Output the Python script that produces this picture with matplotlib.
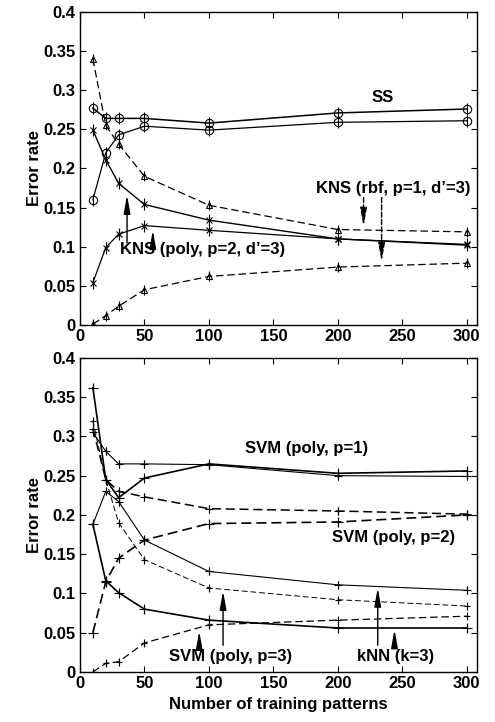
#!/usr/bin/env python3
"""Error rate vs. number of training patterns (KNS / SS and SVM / kNN)."""
import matplotlib
matplotlib.use("Agg")
import matplotlib.pyplot as plt

plt.rcParams["font.family"] = ["Liberation Sans", "DejaVu Sans"]
plt.rcParams["font.weight"] = "bold"

n_train = [10, 20, 30, 50, 100, 200, 300]

# top panel
ss_a = [0.277, 0.264, 0.264, 0.264, 0.258, 0.271, 0.276]
ss_b = [0.160, 0.220, 0.243, 0.254, 0.249, 0.259, 0.261]
kns_rbf_a = [0.340, 0.255, 0.231, 0.190, 0.153, 0.122, 0.119]
kns_rbf_b = [0.001, 0.012, 0.024, 0.045, 0.062, 0.074, 0.079]
kns_poly_a = [0.249, 0.211, 0.181, 0.154, 0.134, 0.110, 0.102]
kns_poly_b = [0.054, 0.099, 0.116, 0.127, 0.121, 0.110, 0.103]

# bottom panel
svm1_a = [0.305, 0.281, 0.265, 0.265, 0.264, 0.250, 0.249]
svm1_b = [0.362, 0.245, 0.222, 0.247, 0.265, 0.253, 0.256]
svm2_a = [0.310, 0.245, 0.230, 0.223, 0.208, 0.205, 0.201]
svm2_b = [0.050, 0.115, 0.145, 0.168, 0.189, 0.191, 0.200]
svm3_a = [0.320, 0.245, 0.190, 0.143, 0.107, 0.092, 0.084]
svm3_b = [0.000, 0.011, 0.013, 0.037, 0.060, 0.066, 0.071]
knn_a = [0.188, 0.230, 0.217, 0.168, 0.128, 0.111, 0.104]
knn_b = [0.188, 0.116, 0.101, 0.080, 0.066, 0.056, 0.056]

FS = 12


def style_axes(ax):
    ax.set_xlim(0, 308)
    ax.set_ylim(0, 0.4)
    ax.set_xticks([0, 50, 100, 150, 200, 250, 300])
    ax.set_yticks([0, 0.05, 0.1, 0.15, 0.2, 0.25, 0.3, 0.35, 0.4])
    ax.set_yticklabels(["0", "0.05", "0.1", "0.15", "0.2", "0.25", "0.3", "0.35", "0.4"])
    ax.tick_params(direction="in", top=True, right=True, length=4, width=0.8,
                   labelsize=FS, pad=3)
    for lab in ax.get_xticklabels() + ax.get_yticklabels():
        lab.set_fontweight("bold")
    for sp in ax.spines.values():
        sp.set_linewidth(1.0)
    ax.set_ylabel("Error rate", fontsize=FS, fontweight="bold", labelpad=1)


def line(ax, y, ls, lw, marker, ms, bar=6):
    ax.plot(n_train, y, linestyle=ls, color="black", linewidth=lw, marker=marker,
            markersize=ms, markerfacecolor="none", markeredgewidth=0.8)
    ax.plot(n_train, y, linestyle="none", color="black", marker="|", markersize=bar,
            markeredgewidth=0.8)


def arrow(ax, x, y0, y1, ls="-"):
    ax.annotate("", xy=(x, y1), xytext=(x, y0),
                arrowprops=dict(arrowstyle="-|>,head_length=1.1,head_width=0.2",
                                color="black", lw=1.0, linestyle=ls,
                                mutation_scale=10, shrinkA=0, shrinkB=0))


fig = plt.figure(figsize=(4.95, 7.22), dpi=100)
ax1 = fig.add_axes([0.1616, 0.5499, 0.802, 0.4335])
ax2 = fig.add_axes([0.1616, 0.0693, 0.802, 0.435])

# top panel
line(ax1, ss_a, "-", 1.1, "o", 6, 8)
line(ax1, ss_b, "-", 0.9, "o", 6, 8)
line(ax1, kns_rbf_a, (0, (6, 3)), 0.9, "^", 5, 7)
line(ax1, kns_rbf_b, (0, (6, 3)), 0.9, "^", 5, 7)
line(ax1, kns_poly_a, "-", 1.0, "x", 4, 8)
line(ax1, kns_poly_b, "-", 0.9, "x", 4, 8)

ax1.text(235, 0.291, "SS", fontsize=FS, fontweight="bold", ha="center", va="center")
ax1.text(303, 0.175, "KNS (rbf, p=1, d\u2019=3)", fontsize=FS, fontweight="bold",
         ha="right", va="center")
ax1.text(31, 0.097, "KNS (poly, p=2, d\u2019=3)", fontsize=FS, fontweight="bold",
         ha="left", va="center")
arrow(ax1, 36.5, 0.105, 0.166)
arrow(ax1, 56.5, 0.105, 0.121)
arrow(ax1, 220, 0.163, 0.126, ls="--")
arrow(ax1, 234, 0.163, 0.081, ls="--")
style_axes(ax1)

# bottom panel
line(ax2, svm1_a, "-", 0.8, "+", 6)
line(ax2, svm1_b, "-", 1.2, "+", 7)
line(ax2, svm2_a, (0, (6, 3)), 1.1, "+", 6)
line(ax2, svm2_b, (0, (6, 3)), 1.2, "+", 7)
line(ax2, svm3_a, (0, (6, 3)), 0.7, "+", 5)
line(ax2, svm3_b, (0, (6, 3)), 0.9, "+", 5)
line(ax2, knn_a, "-", 0.8, "+", 6)
line(ax2, knn_b, "-", 1.2, "+", 7)

ax2.text(176, 0.285, "SVM (poly, p=1)", fontsize=FS, fontweight="bold",
         ha="center", va="center")
ax2.text(243, 0.171, "SVM (poly, p=2)", fontsize=FS, fontweight="bold",
         ha="center", va="center")
ax2.text(117, 0.02, "SVM (poly, p=3)", fontsize=FS, fontweight="bold",
         ha="center", va="center")
ax2.text(245, 0.02, "kNN (k=3)", fontsize=FS, fontweight="bold",
         ha="center", va="center")
arrow(ax2, 111, 0.034, 0.103)
arrow(ax2, 92.5, 0.032, 0.052)
arrow(ax2, 231, 0.034, 0.107)
arrow(ax2, 244, 0.034, 0.054)
style_axes(ax2)
ax2.set_xlabel("Number of training patterns", fontsize=FS, fontweight="bold", labelpad=4)

fig.savefig("out.png", dpi=100)
